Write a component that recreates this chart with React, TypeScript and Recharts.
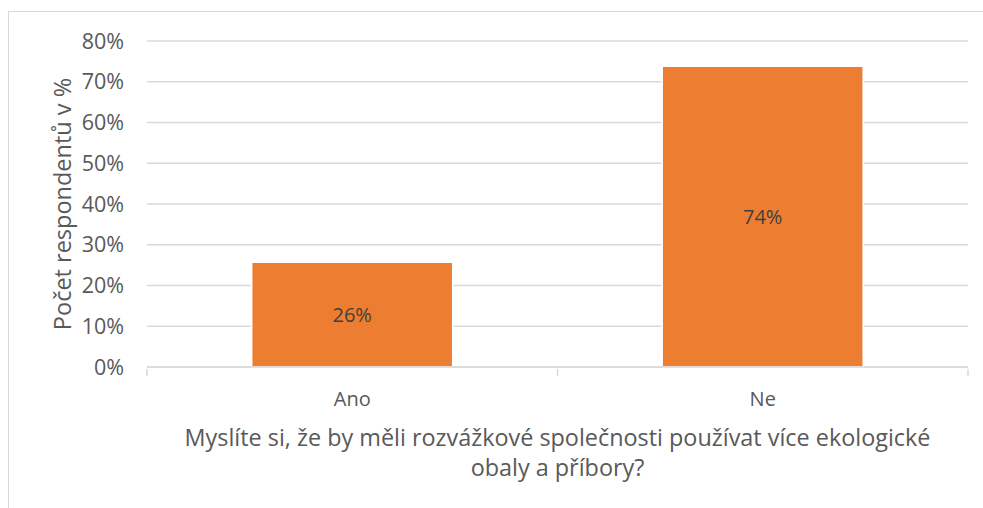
import { BarChart, Bar, XAxis, YAxis, CartesianGrid, LabelList } from 'recharts';

const categories = ['Ano', 'Ne'];
const shares = [25.7, 73.8];
const yTicks = [0, 10, 20, 30, 40, 50, 60, 70, 80];
const shareLabels = ['26%', '74%'];

const yTitle = 'Počet respondentů v %';
const xTitleLines = ['Myslíte si, že by měli rozvážkové společnosti používat více ekologické', 'obaly a příbory?'];

const data = categories.map((name, i) => ({ name, value: shares[i], label: shareLabels[i] }));

const FONT = '"Open Sans", sans-serif';
const TEXT = '#595959';
const GRID = '#d9d9d9';

const W = 983;
const H = 508;
const margin = { top: 41, right: 15, bottom: 0, left: 70 };
const Y_AXIS_W = 77;
const X_AXIS_H = 141;
const plotW = W - margin.left - margin.right - Y_AXIS_W;
const band = plotW / categories.length;

function CategoryTick(props: any) {
  const { x, y, payload, index } = props;
  const left = x - band / 2;
  const right = x + band / 2;
  return (
    <g>
      <line x1={left} x2={left} y1={y} y2={y + 7} stroke={GRID} strokeWidth={1.5} />
      {index === categories.length - 1 && (
        <line x1={right} x2={right} y1={y} y2={y + 7} stroke={GRID} strokeWidth={1.5} />
      )}
      <text x={x} y={y + 37} textAnchor="middle" fill={TEXT} fontSize={20} fontFamily={FONT}>
        {payload.value}
      </text>
    </g>
  );
}

function XTitle(props: any) {
  const { viewBox } = props;
  const cx = viewBox.x + viewBox.width / 2;
  return (
    <text x={cx} y={446} textAnchor="middle" fill={TEXT} fontSize={23.4} fontFamily={FONT}>
      {xTitleLines.map((line, i) => (
        <tspan key={i} x={cx} dy={i === 0 ? 0 : 30}>
          {line}
        </tspan>
      ))}
    </text>
  );
}

function YTitle(props: any) {
  const { viewBox } = props;
  const cy = viewBox.y + viewBox.height / 2;
  return (
    <text
      x={62}
      y={cy}
      transform={`rotate(-90 62 ${cy})`}
      textAnchor="middle"
      dominantBaseline="central"
      fill={TEXT}
      fontSize={23.5}
      fontFamily={FONT}
    >
      {yTitle}
    </text>
  );
}

export default function App() {
  return (
    <div style={{ position: 'absolute', left: 0, top: 0, width: W, height: H, background: '#fff', overflow: 'hidden' }}>
      <div
        style={{
          position: 'absolute',
          left: 8,
          top: 11,
          width: W,
          height: H,
          borderLeft: `1.5px solid ${GRID}`,
          borderTop: `1.5px solid ${GRID}`,
          boxSizing: 'border-box',
        }}
      />
      <div style={{ position: 'absolute', left: 0, top: 0 }}>
        <BarChart width={W} height={H} data={data} margin={margin} barCategoryGap="25.5%">
          <CartesianGrid vertical={false} stroke={GRID} strokeWidth={1.5} />
          <XAxis
            dataKey="name"
            height={X_AXIS_H}
            axisLine={{ stroke: GRID, strokeWidth: 1.5 }}
            tickLine={false}
            tickSize={0}
            tick={<CategoryTick />}
            interval={0}
            label={<XTitle />}
          />
          <YAxis
            width={Y_AXIS_W}
            domain={[0, 80]}
            ticks={yTicks}
            interval={0}
            axisLine={false}
            tickLine={false}
            tickSize={0}
            tickMargin={23}
            tickFormatter={(v: number) => `${v}%`}
            tick={{ fill: TEXT, fontSize: 21.5, fontFamily: FONT }}
            label={<YTitle />}
          />
          <Bar dataKey="value" fill="#ED7D31" stroke="#ffffff" strokeWidth={1.5} isAnimationActive={false}>
            <LabelList dataKey="label" position="center" fill="#404040" fontSize={20} fontFamily={FONT} />
          </Bar>
        </BarChart>
      </div>
    </div>
  );
}
